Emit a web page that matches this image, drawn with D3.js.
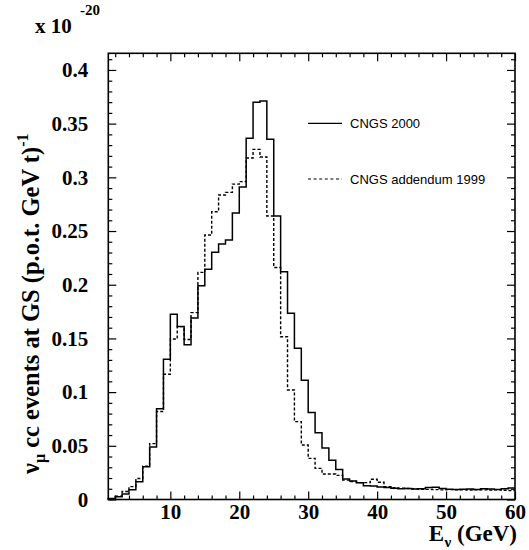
<!DOCTYPE html>
<html><head><meta charset="utf-8">
<script src="https://cdn.jsdelivr.net/npm/d3@7"></script>
<style>body{margin:0;background:#fff}</style>
</head><body>
<svg id="c" width="529" height="550"></svg>
<script>
// lower edges of 1 GeV bins
const binLow = [1,2,3,4,5,6,7,8,9,10,11,12,13,14,15,16,17,18,19,20,21,22,23,24,25,26,27,28,29,30,
  31,32,33,34,35,36,37,38,39,40,41,42,43,44,45,46,47,48,49,50,51,52,53,54,55,56,57,58,59];
const binWidth = 1;
const cngs2000 = [0.001,0.0026,0.0052,0.009,0.0165,0.0305,0.049,0.0845,0.1305,0.1724,
  0.161,0.144,0.169,0.199,0.2143,0.2302,0.2379,0.2416,0.2668,0.291,
  0.3363,0.370,0.371,0.3354,0.264,0.2121,0.1734,0.1408,0.111,0.081,
  0.0622,0.048,0.0365,0.028,0.019,0.0172,0.0157,0.0128,0.0126,0.0116,
  0.0112,0.0105,0.0100,0.0102,0.0098,0.0100,0.0112,0.0114,0.0102,0.0096,
  0.0094,0.0096,0.0098,0.0092,0.0100,0.0098,0.0094,0.0100,0.0106];
const cngs1999 = [0.0005,0.003,0.0075,0.012,0.0195,0.031,0.052,0.082,0.1166,0.1494,
  0.161,0.149,0.174,0.2115,0.2463,0.268,0.2835,0.286,0.2937,0.296,
  0.318,0.326,0.319,0.264,0.216,0.1516,0.102,0.0725,0.0507,0.0383,
  0.029,0.0237,0.0237,0.0225,0.018,0.0167,0.0157,0.0157,0.0188,0.016,
  0.012,0.0110,0.0105,0.0102,0.0100,0.0096,0.0094,0.0092,0.0090,0.0092,
  0.0090,0.0090,0.0088,0.0090,0.0090,0.0088,0.0090,0.0086,0.0084];
const seriesNames = ["CNGS 2000", "CNGS addendum 1999"];
const xMajorTicks = [10,20,30,40,50,60];
const xMinorTicks = [2,4,6,8,12,14,16,18,22,24,26,28,32,34,36,38,42,44,46,48,52,54,56,58];
const yMajorTicks = [0,0.05,0.1,0.15,0.2,0.25,0.3,0.35,0.4];
const yTickLabels = ["0","0.05","0.1","0.15","0.2","0.25","0.3","0.35","0.4"];
const yMinorTicks = [0.01,0.02,0.03,0.04,0.06,0.07,0.08,0.09,0.11,0.12,0.13,0.14,0.16,0.17,0.18,0.19,
  0.21,0.22,0.23,0.24,0.26,0.27,0.28,0.29,0.31,0.32,0.33,0.34,0.36,0.37,0.38,0.39,0.41];

const L = 108.3, R = 515, T = 53.3, B = 499.5;
const x = d3.scaleLinear().domain([1, 60]).range([L, R]);
const y = d3.scaleLinear().domain([0, 0.4155]).range([B, T]);
const svg = d3.select("#c");
const serif = "'Liberation Serif','Times New Roman',serif";

function axes(name, scale, tr, major, minor, labels, pad) {
  const g1 = svg.append("g").attr("transform", tr)
    .call(d3[name](scale).tickValues(major).tickSize(-8).tickPadding(pad)
      .tickFormat(labels ? (d, i) => labels[i] : ""));
  g1.select(".domain").remove();
  const g2 = svg.append("g").attr("transform", tr)
    .call(d3[name](scale).tickValues(minor).tickSize(-4).tickFormat(""));
  g2.select(".domain").remove();
  [g1, g2].forEach(g => g.selectAll("line").attr("stroke", "#000").attr("stroke-width", 1.2));
  g1.selectAll("text").attr("font-family", serif).attr("font-weight", "bold")
    .attr("font-size", 21).attr("fill", "#000");
  return g1;
}

axes("axisBottom", x, `translate(0,${B})`, xMajorTicks, xMinorTicks, xMajorTicks.map(String), 5);
axes("axisTop", x, `translate(0,${T})`, xMajorTicks, xMinorTicks, null, 0);
axes("axisLeft", y, `translate(${L},0)`, yMajorTicks, yMinorTicks, yTickLabels, 20);
axes("axisRight", y, `translate(${R},0)`, yMajorTicks, yMinorTicks, null, 0);

svg.append("rect").attr("x", L).attr("y", T).attr("width", R - L).attr("height", B - T)
  .attr("fill", "none").attr("stroke", "#000").attr("stroke-width", 1.6);

function stepPts(vals) {
  const pts = [[binLow[0], 0]];
  vals.forEach((v, i) => { pts.push([binLow[i], v]); pts.push([binLow[i] + binWidth, v]); });
  return pts;
}
const line = d3.line().x(d => x(d[0])).y(d => y(d[1]));
svg.append("path").attr("d", line(stepPts(cngs1999))).attr("fill", "none")
  .attr("stroke", "#000").attr("stroke-width", 1.4).attr("stroke-dasharray", "3,2");
svg.append("path").attr("d", line(stepPts(cngs2000))).attr("fill", "none")
  .attr("stroke", "#000").attr("stroke-width", 1.5);

// legend
const lg = [{name: seriesNames[0], dash: null, yy: 123.3}, {name: seriesNames[1], dash: "3,2.6", yy: 179}];
lg.forEach(d => {
  svg.append("line").attr("x1", 308).attr("x2", 342).attr("y1", d.yy).attr("y2", d.yy)
    .attr("stroke", "#000").attr("stroke-width", 1.2).attr("stroke-dasharray", d.dash);
  svg.append("text").attr("x", 350).attr("y", d.yy + 4.7).text(d.name)
    .attr("font-family", "'Liberation Sans',Arial,sans-serif").attr("font-size", 13).attr("fill", "#000");
});

// multiplier
const mult = svg.append("text").attr("x", 35).attr("y", 33).attr("font-family", serif)
  .attr("font-weight", "bold").attr("font-size", 21).attr("fill", "#000");
mult.append("tspan").text("x 10");
mult.append("tspan").attr("x", 80).attr("y", 15).attr("font-size", 15).text("-20");

// x title
const xt = svg.append("text").attr("x", 517).attr("y", 541).attr("text-anchor", "end")
  .attr("font-family", serif).attr("font-weight", "bold").attr("font-size", 23).attr("fill", "#000");
xt.append("tspan").text("E");
xt.append("tspan").attr("font-size", 15).attr("dy", 6).attr("dx", 0.5).text("ν");
xt.append("tspan").attr("dy", -6).text(" (GeV)");

// y title
const yt = svg.append("text").attr("transform", "translate(39,474) rotate(-90)")
  .attr("font-family", serif).attr("font-weight", "bold").attr("font-size", 24.5).attr("fill", "#000");
yt.append("tspan").text("ν");
yt.append("tspan").attr("font-size", 16).attr("dy", 6).text("μ");
yt.append("tspan").attr("dy", -6).text(" cc events at GS (p.o.t. GeV t)");
yt.append("tspan").attr("font-size", 16).attr("dy", -11).text("-1");
</script>
</body></html>
